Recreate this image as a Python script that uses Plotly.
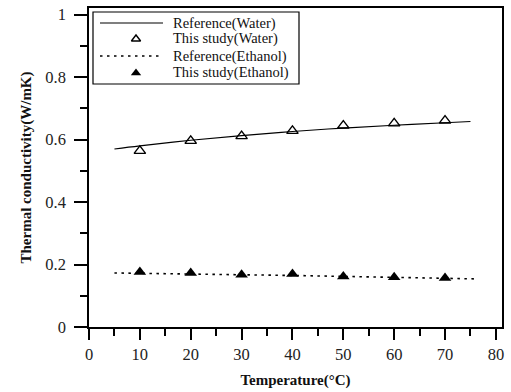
import plotly.graph_objects as go

# ---- data ----
ref_water_t = [5, 10, 20, 30, 40, 50, 60, 70, 75]
ref_water_k = [0.570, 0.580, 0.598, 0.613, 0.626, 0.637, 0.646, 0.654, 0.658]
study_water_t = [10, 20, 30, 40, 50, 60, 70]
study_water_k = [0.564, 0.596, 0.611, 0.628, 0.645, 0.652, 0.661]
ref_eth_t = [5, 20, 40, 60, 76]
ref_eth_k = [0.173, 0.170, 0.165, 0.159, 0.154]
study_eth_t = [10, 20, 30, 40, 50, 60, 70]
study_eth_k = [0.176, 0.173, 0.167, 0.170, 0.162, 0.159, 0.157]
y_tickvals = [0, 0.2, 0.4, 0.6, 0.8, 1.0]
y_ticktext = ["0", "0.2", "0.4", "0.6", "0.8", "1"]
x_tickvals = [0, 10, 20, 30, 40, 50, 60, 70, 80]
legend_names = ["Reference(Water)", "This study(Water)", "Reference(Ethanol)", "This study(Ethanol)"]

W, H = 511, 392
L, R, T, B = 89, 502, 8, 327
SERIF = "Liberation Serif, Times New Roman, serif"

def px(x):
    return (x - L) / (R - L)

def py(y):
    return (B - y) / (B - T)

fig = go.Figure()
fig.add_trace(go.Scatter(x=ref_water_t, y=ref_water_k, mode="lines", line=dict(color="black", width=1.2),
                         line_shape="spline", showlegend=False))
fig.add_trace(go.Scatter(x=study_water_t, y=study_water_k, mode="markers",
                         marker=dict(symbol="triangle-up-open", size=10, color="black", line=dict(width=1.4)),
                         showlegend=False))
fig.add_trace(go.Scatter(x=ref_eth_t, y=ref_eth_k, mode="lines", line=dict(color="black", width=1.6, dash="2.5px,4.5px"),
                         showlegend=False))
fig.add_trace(go.Scatter(x=study_eth_t, y=study_eth_k, mode="markers",
                         marker=dict(symbol="triangle-up", size=11, color="black", line=dict(width=0)),
                         showlegend=False))

# ---- manual legend ----
rows = [23, 39, 56, 73]
fig.add_shape(type="rect", xref="paper", yref="paper", x0=px(93), x1=px(299), y0=py(84), y1=py(12),
              line=dict(color="black", width=1.2), fillcolor="white", layer="below")
fig.add_shape(type="line", xref="paper", yref="paper", x0=px(100), x1=px(163), y0=py(rows[0]), y1=py(rows[0]),
              line=dict(color="black", width=1.2))
fig.add_shape(type="line", xref="paper", yref="paper", x0=px(100), x1=px(163), y0=py(rows[2]), y1=py(rows[2]),
              line=dict(color="black", width=1.6, dash="2.5px,4.5px"))
fig.add_trace(go.Scatter(x=[px(136)], y=[py(rows[1])], xaxis="x2", yaxis="y2", mode="markers",
                         marker=dict(symbol="triangle-up-open", size=8, color="black", line=dict(width=1.4)),
                         showlegend=False, hoverinfo="skip"))
fig.add_trace(go.Scatter(x=[px(136)], y=[py(rows[3])], xaxis="x2", yaxis="y2", mode="markers",
                         marker=dict(symbol="triangle-up", size=9, color="black", line=dict(width=0)),
                         showlegend=False, hoverinfo="skip"))
for name, r in zip(legend_names, rows):
    fig.add_annotation(x=px(171), y=py(r), xref="paper", yref="paper", text=name, showarrow=False,
                       xanchor="left", yanchor="middle", font=dict(family=SERIF, size=14.5, color="#111"))

fig.update_layout(
    width=W, height=H,
    margin=dict(l=L, r=W - R, t=T, b=H - B, autoexpand=False),
    paper_bgcolor="white", plot_bgcolor="white",
    showlegend=False,
    xaxis=dict(range=[0, 81.2], tickvals=x_tickvals, ticks="outside", ticklen=11, tickwidth=1.5, tickcolor="black",
               showline=True, linecolor="black", linewidth=1.6, mirror=True, showgrid=False, zeroline=False,
               minor=dict(dtick=5, tick0=0, ticks="outside", ticklen=7, tickwidth=1.5, tickcolor="black"),
               tickfont=dict(family=SERIF, size=16.5, color="#222"),
               title=dict(text="<b>Temperature(°C)</b>", font=dict(family=SERIF, size=15, color="#111"), standoff=12)),
    yaxis=dict(range=[0, 1.0214], tickvals=y_tickvals, ticktext=y_ticktext, ticks="outside", ticklen=13,
               tickwidth=1.5, tickcolor="black", ticklabelstandoff=5,
               showline=True, linecolor="black", linewidth=1.6, mirror=True, showgrid=False, zeroline=False,
               minor=dict(dtick=0.1, tick0=0, ticks="outside", ticklen=7, tickwidth=1.5, tickcolor="black"),
               tickfont=dict(family=SERIF, size=16.5, color="#222"),
               title=dict(text="<b>Thermal conductivity(W/mK)</b>", font=dict(family=SERIF, size=15, color="#111"),
                          standoff=10)),
    xaxis2=dict(range=[0, 1], overlaying="x", visible=False, fixedrange=True),
    yaxis2=dict(range=[0, 1], overlaying="y", visible=False, fixedrange=True),
)

fig.write_html("out.html")
